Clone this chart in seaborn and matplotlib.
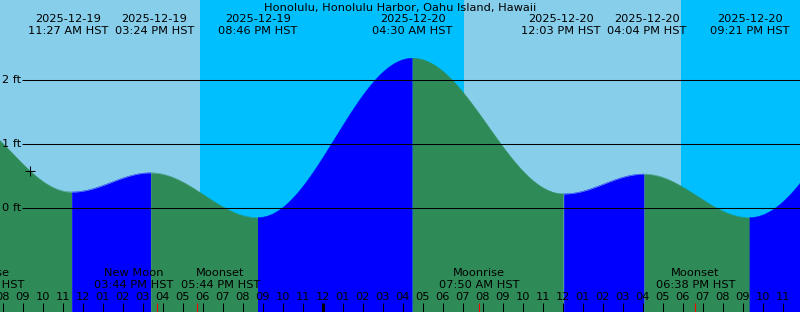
import numpy as np
import pandas as pd
import matplotlib
matplotlib.use("Agg")
import matplotlib.pyplot as plt
import matplotlib.transforms as mtransforms
import seaborn as sns

# ---------------- data ----------------
title = "Honolulu, Honolulu Harbor, Oahu Island, Hawaii"
tz_name = "HST"
# tide extremes (first and last ones lie just outside the plotted window)
tide_times = ["2025-12-19 05:24", "2025-12-19 11:27", "2025-12-19 15:24",
              "2025-12-19 20:46", "2025-12-20 04:30", "2025-12-20 12:03",
              "2025-12-20 16:04", "2025-12-20 21:21", "2025-12-21 05:30"]
tide_heights = [1.50, 0.25, 0.55, -0.15, 2.34, 0.22, 0.53, -0.15, 2.30]
sun_times = ["2025-12-19 17:52", "2025-12-20 07:04", "2025-12-20 17:55"]
sun_kinds = ["set", "rise", "set"]
moon_times = ["2025-12-19 07:04", "2025-12-19 15:44", "2025-12-19 17:44",
              "2025-12-20 07:50", "2025-12-20 18:38"]
moon_names = ["Moonrise", "New Moon", "Moonset", "Moonrise", "Moonset"]
now_time = "2025-12-19 09:22"
window_start = "2025-12-19 07:52"
window_hours = 40
height_ticks = [0, 1, 2]
height_range = [-1.625, 3.25]

# ---------------- style ----------------
sns.set_theme(style="white")
plt.rcParams["font.family"] = ["DejaVu Sans"]
FS = 8.2
DAY = "#87CEEB"
NIGHT = "#00BFFF"
EBB = "#2E8B57"
FLOOD = "#0000FF"
W, H = 800, 312

base = pd.Timestamp("2025-12-19 00:00")


def hrs(s):
    return (pd.Timestamp(s) - base).total_seconds() / 3600.0


t_tide = np.array([hrs(s) for s in tide_times])
h_tide = np.array(tide_heights)
t0 = hrs(window_start)
t1 = t0 + window_hours
px = window_hours / W  # hours per pixel

fig = plt.figure(figsize=(W / 100, H / 100), dpi=100)
fig.patch.set_facecolor(DAY)
ax = fig.add_axes([0, 0, 1, 1])
ax.set_xlim(t0, t1)
ax.set_ylim(*height_range)
ax.axis("off")
blend = mtransforms.blended_transform_factory(ax.transData, ax.transAxes)


def ypix(y):
    return 1 - y / H


# sky background
ax.axvspan(t0 - 1, t1 + 1, color=DAY, lw=0, zorder=0)
edges = [t0 - 1] + [hrs(s) for s in sun_times] + [t1 + 1]
kinds = ["rise"] + sun_kinds
for a, b, k in zip(edges[:-1], edges[1:], kinds):
    if k == "set":
        ax.axvspan(a, b, color=NIGHT, lw=0, zorder=0)


def tide_at(t):
    i = np.searchsorted(t_tide, t) - 1
    i = np.clip(i, 0, len(t_tide) - 2)
    f = (t - t_tide[i]) / (t_tide[i + 1] - t_tide[i])
    return h_tide[i] + (h_tide[i + 1] - h_tide[i]) * (1 - np.cos(np.pi * f)) / 2


# tide fills
for i in range(len(t_tide) - 1):
    a, b = t_tide[i], t_tide[i + 1]
    if b < t0 - 1 or a > t1 + 1:
        continue
    tt = np.linspace(a, b, 500)
    hh = tide_at(tt)
    c = EBB if h_tide[i + 1] < h_tide[i] else FLOOD
    ax.fill_between(tt, height_range[0] - 1, hh, color=c, lw=0, zorder=1)
    sns.lineplot(x=tt, y=hh, ax=ax, color=c, lw=0.3, zorder=1.5, legend=False)

# height grid lines
for v in height_ticks:
    ax.hlines(v, t0 + 22 * px, t1 + 1, color="black", lw=0.75, zorder=3)
    ax.text(t0 + 2 * px, v, f"{v} ft", fontsize=FS, ha="left", va="center",
            color="black", zorder=4)

# current time marker
tn = hrs(now_time)
ax.plot([tn], [tide_at(tn)], marker="+", color="black", ms=7, mew=0.75, zorder=4)


def spread(xs, sep):
    xs = list(xs)
    for _ in range(20):
        for j in range(len(xs) - 1):
            d = xs[j + 1] - xs[j]
            if d < sep:
                m = (xs[j] + xs[j + 1]) / 2
                xs[j], xs[j + 1] = m - sep / 2, m + sep / 2
    return xs


SEP = 86.5 * px

# title
ax.text((t0 + t1) / 2, ypix(7.5), title, transform=blend, fontsize=FS,
        ha="center", va="center", color="black", zorder=5)

# tide event labels
vis = [(t, s) for t, s in zip(t_tide, tide_times) if t0 <= t <= t1]
xs = spread([t for t, _ in vis], SEP)
for x, (t, s) in zip(xs, vis):
    ts = pd.Timestamp(s)
    ax.text(x, ypix(19.5), ts.strftime("%Y-%m-%d"), transform=blend, fontsize=FS,
            ha="center", va="center", color="black", zorder=5)
    ax.text(x, ypix(31.5), ts.strftime("%I:%M %p ") + tz_name, transform=blend,
            fontsize=FS, ha="center", va="center", color="black", zorder=5)

# moon labels
tm = [hrs(s) for s in moon_times]
xs = spread(tm, SEP)
for x, t, s, n in zip(xs, tm, moon_times, moon_names):
    ts = pd.Timestamp(s)
    ax.text(x, ypix(273.5), n, transform=blend, fontsize=FS,
            ha="center", va="center", color="black", zorder=5)
    ax.text(x, ypix(284.5), ts.strftime("%I:%M %p ") + tz_name, transform=blend,
            fontsize=FS, ha="center", va="center", color="black", zorder=5)
    ax.vlines(t, 0, 9 / H, transform=blend, color="red", lw=0.75, zorder=6)

# hour ticks and labels
hours = np.arange(np.ceil(t0), np.floor(t1) + 1)
for hv in hours:
    ts = base + pd.Timedelta(hours=float(hv))
    ax.text(hv, ypix(297.5), ts.strftime("%I"), transform=blend, fontsize=FS,
            ha="center", va="center", color="black", zorder=5)
    lw = 2.2 if ts.hour == 0 else 0.75
    ax.vlines(hv, 0, 9 / H, transform=blend, color="black", lw=lw, zorder=5)

fig.savefig("out.png", dpi=100, facecolor=DAY)
